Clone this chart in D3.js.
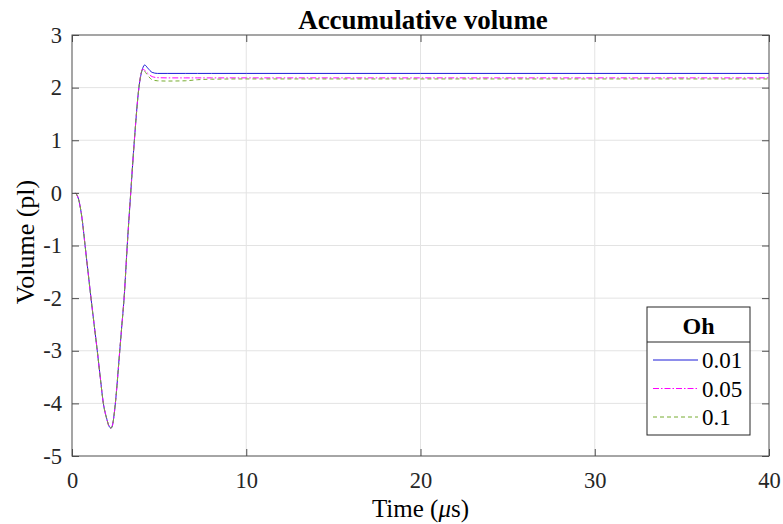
<!DOCTYPE html>
<html>
<head>
<meta charset="utf-8">
<script src="https://cdn.jsdelivr.net/npm/d3@7"></script>
<style>
  body { margin: 0; background: #fff; }
  svg { font-family: "Liberation Serif", "Times New Roman", serif; }
  .grid line { stroke: #e3e3e3; stroke-width: 1; }
</style>
</head>
<body>
<svg id="chart" width="783" height="524"></svg>
<script>
// time in microseconds, shared by all series
const timeUs = [0.2, 0.4, 0.6, 0.75, 0.92, 1.09, 1.27, 1.45, 1.62, 1.8, 2.0, 2.12, 2.24, 2.34, 2.44, 2.55, 2.68, 2.84, 3.0, 3.17, 3.37, 3.58, 3.84, 4.05, 4.17, 4.35, 4.6, 4.9, 5.5, 6.5, 7.2, 8, 10, 20, 40];

// volume (pl) for each Oh
const oh001 = [0, -0.15, -0.55, -1.0, -1.5, -2.0, -2.5, -3.0, -3.5, -4.0, -4.3, -4.43, -4.47, -4.39, -4.15, -3.78, -3.25, -2.6, -1.95, -1.0, 0, 1.0, 2.0, 2.36, 2.43, 2.37, 2.29, 2.27, 2.27, 2.27, 2.27, 2.27, 2.27, 2.27, 2.27];
const oh005 = [0, -0.15, -0.55, -1.0, -1.5, -2.0, -2.5, -3.0, -3.5, -4.0, -4.3, -4.43, -4.47, -4.39, -4.15, -3.78, -3.25, -2.6, -1.95, -1.0, 0, 1.0, 2.0, 2.35, 2.33, 2.27, 2.21, 2.19, 2.185, 2.185, 2.185, 2.185, 2.185, 2.185, 2.185];
const oh01 = [0, -0.15, -0.55, -1.0, -1.5, -2.0, -2.5, -3.0, -3.5, -4.0, -4.3, -4.43, -4.47, -4.39, -4.15, -3.78, -3.25, -2.6, -1.95, -1.0, 0, 1.0, 2.0, 2.34, 2.31, 2.23, 2.15, 2.13, 2.125, 2.13, 2.15, 2.16, 2.165, 2.165, 2.165];

const seriesNames = ["0.01", "0.05", "0.1"];
const xTicks = [0, 10, 20, 30, 40];
const yTicks = [-5, -4, -3, -2, -1, 0, 1, 2, 3];

const series = [
  { name: seriesNames[0], values: oh001, color: "#1c1cd8", dash: null },
  { name: seriesNames[1], values: oh005, color: "#ff00ff", dash: "6,2,1.5,2" },
  { name: seriesNames[2], values: oh01, color: "#77ac30", dash: "4,3" }
];

const svg = d3.select("#chart");
const mLeft = 72, mRight = 769, mTop = 35, mBottom = 456;

const x = d3.scaleLinear().domain([0, 40]).range([mLeft, mRight]);
const y = d3.scaleLinear().domain([-5, 3]).range([mBottom, mTop]);

// grid
const grid = svg.append("g").attr("class", "grid");
grid.selectAll(".gx").data(xTicks.slice(1, -1)).enter().append("line")
  .attr("x1", d => x(d)).attr("x2", d => x(d))
  .attr("y1", mTop).attr("y2", mBottom);
grid.selectAll(".gy").data(yTicks.slice(1, -1)).enter().append("line")
  .attr("x1", mLeft).attr("x2", mRight)
  .attr("y1", d => y(d)).attr("y2", d => y(d));

// lines
const line = d3.line()
  .x((d, i) => x(timeUs[i]))
  .y(d => y(d))
  .curve(d3.curveMonotoneX);

svg.append("g").selectAll("path").data(series).enter().append("path")
  .attr("d", d => line(d.values))
  .attr("fill", "none")
  .attr("stroke", d => d.color)
  .attr("stroke-width", 1)
  .attr("stroke-dasharray", d => d.dash);

// axes (ticks inside, box on)
const axisColor = "#4d4d4d";
const tl = 7;
const fmt = d => String(d); // plain hyphen minus like matlab
function styleAxis(g) {
  g.select(".domain").remove();
  g.selectAll(".tick line").attr("stroke", axisColor);
  g.selectAll(".tick text").attr("fill", "#262626").attr("font-size", 22.5)
    .attr("font-family", "'Liberation Serif', 'Times New Roman', serif");
}
svg.append("g").attr("transform", `translate(0,${mBottom})`)
  .call(d3.axisBottom(x).tickValues(xTicks).tickFormat(fmt).tickSizeInner(-tl).tickSizeOuter(0).tickPadding(16))
  .call(styleAxis);
svg.append("g").attr("transform", `translate(0,${mTop})`)
  .call(d3.axisTop(x).tickValues(xTicks).tickSizeInner(-tl).tickSizeOuter(0).tickFormat(""))
  .call(styleAxis);
svg.append("g").attr("transform", `translate(${mLeft},0)`)
  .call(d3.axisLeft(y).tickValues(yTicks).tickFormat(fmt).tickSizeInner(-tl).tickSizeOuter(0).tickPadding(10))
  .call(styleAxis);
svg.append("g").attr("transform", `translate(${mRight},0)`)
  .call(d3.axisRight(y).tickValues(yTicks).tickSizeInner(-tl).tickSizeOuter(0).tickFormat(""))
  .call(styleAxis);

svg.append("rect")
  .attr("x", mLeft).attr("y", mTop)
  .attr("width", mRight - mLeft).attr("height", mBottom - mTop)
  .attr("fill", "none").attr("stroke", axisColor).attr("stroke-width", 1);

// title and labels
svg.append("text")
  .attr("x", 423).attr("y", 29)
  .attr("text-anchor", "middle")
  .attr("font-size", 27).attr("font-weight", "bold")
  .text("Accumulative volume");

const xl = svg.append("text")
  .attr("x", (mLeft + mRight) / 2).attr("y", 517)
  .attr("text-anchor", "middle")
  .attr("font-size", 25);
xl.append("tspan").text("Time (");
xl.append("tspan").attr("font-style", "italic").text("μ");
xl.append("tspan").text("s)");

svg.append("text")
  .attr("transform", `translate(34,242) rotate(-90)`)
  .attr("text-anchor", "middle")
  .attr("font-size", 26)
  .text("Volume (pl)");

// legend
const lg = svg.append("g").attr("transform", "translate(647,307)");
const lw = 103, lh = 128;
lg.append("rect").attr("width", lw).attr("height", lh)
  .attr("fill", "#fff").attr("stroke", "#262626").attr("stroke-width", 1);
lg.append("line").attr("x1", 0).attr("x2", lw).attr("y1", 35).attr("y2", 35)
  .attr("stroke", "#262626").attr("stroke-width", 1);
lg.append("text").attr("x", lw / 2).attr("y", 27)
  .attr("text-anchor", "middle").attr("font-size", 24).attr("font-weight", "bold")
  .text("Oh");
const item = lg.selectAll(".item").data(series).enter().append("g")
  .attr("transform", (d, i) => `translate(0,${53 + i * 28.5})`);
item.append("line")
  .attr("x1", 6).attr("x2", 51).attr("y1", 0).attr("y2", 0)
  .attr("stroke", d => d.color).attr("stroke-width", 1)
  .attr("stroke-dasharray", d => d.dash);
item.append("text").attr("x", 55).attr("y", 8)
  .attr("font-size", 23).text(d => d.name);
</script>
</body>
</html>
